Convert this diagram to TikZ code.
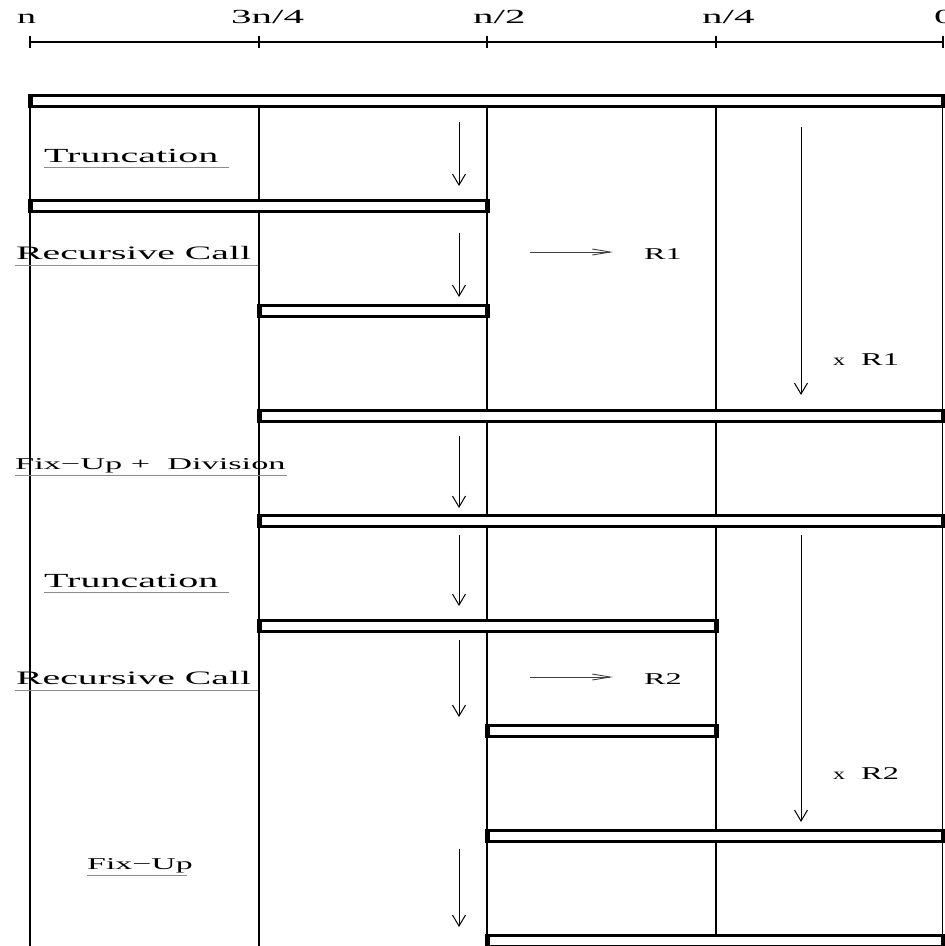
\documentclass[tikz,border=0pt]{standalone}
\usepackage{fontspec}
\setmainfont{Liberation Serif}
\usetikzlibrary{arrows.meta}
\newcommand\mybar[3]{%
  \draw[bar] (#1,#3) rectangle (#2,#3+11.4);
  \fill (#1-2.5,#3-1.3) rectangle (#1+2.5,#3+12.7);
  \fill (#2-2.5,#3-1.3) rectangle (#2+2.5,#3+12.7);}
\newcommand\stretched[3]{\fontsize{#1}{#1}\selectfont\scalebox{#2}[1]{#3}}
\begin{document}
\begin{tikzpicture}[x=1pt,y=-1pt,
  vline/.style={line width=1.2pt},
  bar/.style={draw, line width=2.6pt, fill=white},
  down/.style={line width=1pt, -{Straight Barb[length=11pt,width=13pt,line width=1pt]}},
  side/.style={line width=0.9pt, draw=black!75, -{Straight Barb[length=18pt,width=6pt,line width=0.9pt]}},
  uline/.style={line width=1pt, draw=black!45},
  lbl/.style={inner sep=0pt, anchor=base west},
]
\useasboundingbox (0,0) rectangle (945,946);
% axis
\node[lbl] (tn) at (17,23) {\stretched{20}{1.9}{n}};
\node[lbl] (t3) at (231,23) {\stretched{20}{2.05}{3n/4}};
\node[lbl] (t2) at (473,23) {\stretched{20}{2.05}{n/2}};
\node[lbl] (t1) at (702,23) {\stretched{20}{2.05}{n/4}};
\node[lbl] (t0) at (934,23) {\stretched{20}{2.05}{0}};
\coordinate (ax0) at (30,42);
\coordinate (ax1) at (943,42);
\draw[line width=2pt] (ax0) -- (ax1);
\foreach \x in {30,259,487,716,943} \draw[line width=1.3pt] (\x,36) -- (\x,48);
% vertical lines
\foreach \x in {30,259,487} \draw[vline] (\x,108) -- (\x,946);
\foreach \x in {716,942.5} \draw[vline] (\x,108) -- (\x,934);
% bars
\mybar{30}{943}{95.3}
\mybar{30}{487}{200.3}
\mybar{259}{487}{305.3}
\mybar{259}{943}{410.3}
\mybar{259}{943}{515.3}
\mybar{259}{716}{620.3}
\mybar{487}{716}{725.3}
\mybar{487}{943}{830.3}
\mybar{487}{943}{935.3}
% labels
\node[lbl] (l1) at (44,162) {\stretched{20}{2}{Truncation}};
\draw[uline] (44,167) -- (229,167);
\node[lbl] (l2) at (16,259) {\stretched{19}{2.09}{Recursive Call}};
\draw[uline] (15,265) -- (258,265);
\node[lbl] (l3) at (15,469) {\stretched{16.5}{2.08}{Fix−Up +\ \ Division}};
\draw[uline] (15,475) -- (287,475);
\node[lbl] (l4) at (44,587) {\stretched{20}{2}{Truncation}};
\draw[uline] (44,592) -- (229,592);
\node[lbl] (l5) at (16,684) {\stretched{19}{2.09}{Recursive Call}};
\draw[uline] (15,690) -- (258,690);
\node[lbl] (l6) at (87,869) {\stretched{16.5}{2.05}{Fix−Up}};
\draw[uline] (87,875) -- (187,875);
% down arrows
\coordinate (a1s) at (459,122); \coordinate (a1e) at (459,186);
\coordinate (a2s) at (459,233); \coordinate (a2e) at (459,297);
\coordinate (a3s) at (459,436); \coordinate (a3e) at (459,508);
\coordinate (a4s) at (459,535); \coordinate (a4e) at (459,606);
\coordinate (a5s) at (459,640); \coordinate (a5e) at (459,717);
\coordinate (a6s) at (459,849); \coordinate (a6e) at (459,927);
\coordinate (b1s) at (801,127); \coordinate (b1e) at (801,395);
\coordinate (b2s) at (801,535); \coordinate (b2e) at (801,822);
\foreach \a in {a1,a2,a3,a4,a5,a6,b1,b2} \draw[down] (\a s) -- (\a e);
% R arrows
\node[lbl] (r1) at (644,259) {\stretched{16.5}{1.95}{R1}};
\node[lbl] (r2) at (644,684) {\stretched{16.5}{1.95}{R2}};
\coordinate (h1) at (530,252);
\coordinate (h2) at (530,677);
\draw[side] (h1) -- ++(83,0);
\draw[side] (h2) -- ++(83,0);
\node[lbl] (x1) at (833,365) {\stretched{16}{1.5}{x}\hspace{16pt}\stretched{18}{1.8}{R1}};
\node[lbl] (x2) at (833,779) {\stretched{16}{1.5}{x}\hspace{16pt}\stretched{18}{1.8}{R2}};
\end{tikzpicture}
\end{document}
